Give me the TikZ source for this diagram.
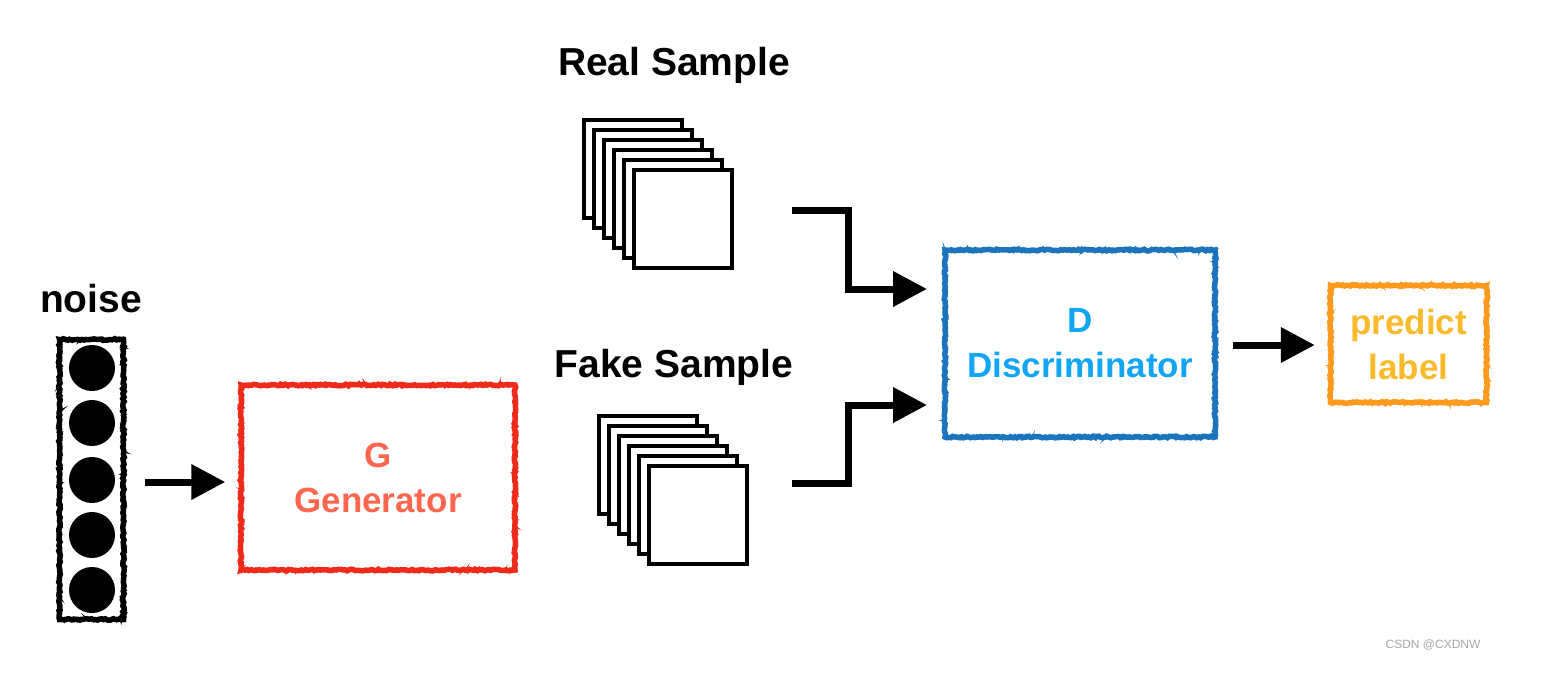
\documentclass[tikz,border=0pt]{standalone}
\usepackage{fontspec}
\setmainfont{Liberation Sans}
\usetikzlibrary{arrows.meta,decorations.pathmorphing}
\definecolor{gred}{HTML}{EE2A1A}
\definecolor{gtext}{HTML}{FF6650}
\definecolor{dblue}{HTML}{1C75BC}
\definecolor{dtext}{HTML}{12A5F4}
\definecolor{porange}{HTML}{FF9A1E}
\definecolor{ptext}{HTML}{FBB92C}
\begin{document}
\begin{tikzpicture}[x=1pt,y=-1pt,
  sketch/.style={draw=#1, line width=5.5pt, inner sep=0pt, decorate,
    decoration={random steps, segment length=2pt, amplitude=0.8pt},
    postaction={draw=#1, line width=2pt, decorate,
      decoration={random steps, segment length=1.2pt, amplitude=1.8pt}}},
  boxtext/.style={font=\bfseries\fontsize{35}{45}\selectfont, align=center},
  lbl/.style={font=\bfseries\fontsize{39}{47}\selectfont, anchor=base},
  sq/.style={draw, line width=4pt, fill=white, minimum size=98pt, inner sep=0pt},
  dot/.style={circle, fill=black, minimum size=46pt, inner sep=0pt},
  arr/.style={line width=7pt, line join=miter, -{Triangle[length=34pt,width=34pt]}}
]
\pgfmathsetseed{7}
\useasboundingbox (0,0) rectangle (1554,688);

% noise
\node[lbl] (noiselbl) at (91,312) {noise};
\node[sketch=black, minimum width=64pt, minimum height=280pt] (noise) at (91.5,479.5) {};
\node[dot] (n1) at (92,368) {};
\node[dot] (n2) at (92,423) {};
\node[dot] (n3) at (92,480) {};
\node[dot] (n4) at (92,535) {};
\node[dot] (n5) at (92,590) {};

% generator
\node[sketch=gred, minimum width=274pt, minimum height=185pt, boxtext, text=gtext] (G) at (378,477.5) {G\\Generator};

% real samples
\node[lbl] (reallbl) at (674,75) {Real Sample};
\node[sq] (r1) at (632.5,168.5) {};
\node[sq] (r2) at (642.5,178.5) {};
\node[sq] (r3) at (652.5,188.5) {};
\node[sq] (r4) at (662.5,198.5) {};
\node[sq] (r5) at (672.5,208.5) {};
\node[sq] (r6) at (682.5,218.5) {};

% fake samples
\node[lbl] (fakelbl) at (674,377) {Fake Sample};
\node[sq] (f1) at (648,464.5) {};
\node[sq] (f2) at (658,474.5) {};
\node[sq] (f3) at (668,484.5) {};
\node[sq] (f4) at (678,494.5) {};
\node[sq] (f5) at (688,504.5) {};
\node[sq] (f6) at (698,514.5) {};

% discriminator
\node[sketch=dblue, minimum width=270pt, minimum height=187pt, boxtext, text=dtext] (D) at (1080,343.5) {D\\Discriminator};

% predict label
\node[sketch=porange, minimum width=156pt, minimum height=117pt, boxtext, text=ptext] (P) at (1408.5,344) {predict\\label};

% connectors
\coordinate (ra) at (792,210);
\coordinate (rk) at (848,289);
\coordinate (rd) at (927,289);
\coordinate (fa) at (792,483);
\coordinate (fk) at (848,405);
\coordinate (fd) at (927,405);
\draw[arr] (ra) -| (rk) -- (rd);
\draw[arr] (fa) -| (fk) -- (fd);
\draw[arr, shorten <=19pt, shorten >=13pt] (noise.east |- 0,482) -- (G.west |- 0,482);
\draw[arr, shorten <=15pt, shorten >=13pt] (D.east |- 0,345) -- (P.west |- 0,345);

% watermark
\node[font=\fontsize{12}{14}\selectfont, text=black!35] (wm) at (1433,645) {CSDN @CXDNW};
\end{tikzpicture}
\end{document}
